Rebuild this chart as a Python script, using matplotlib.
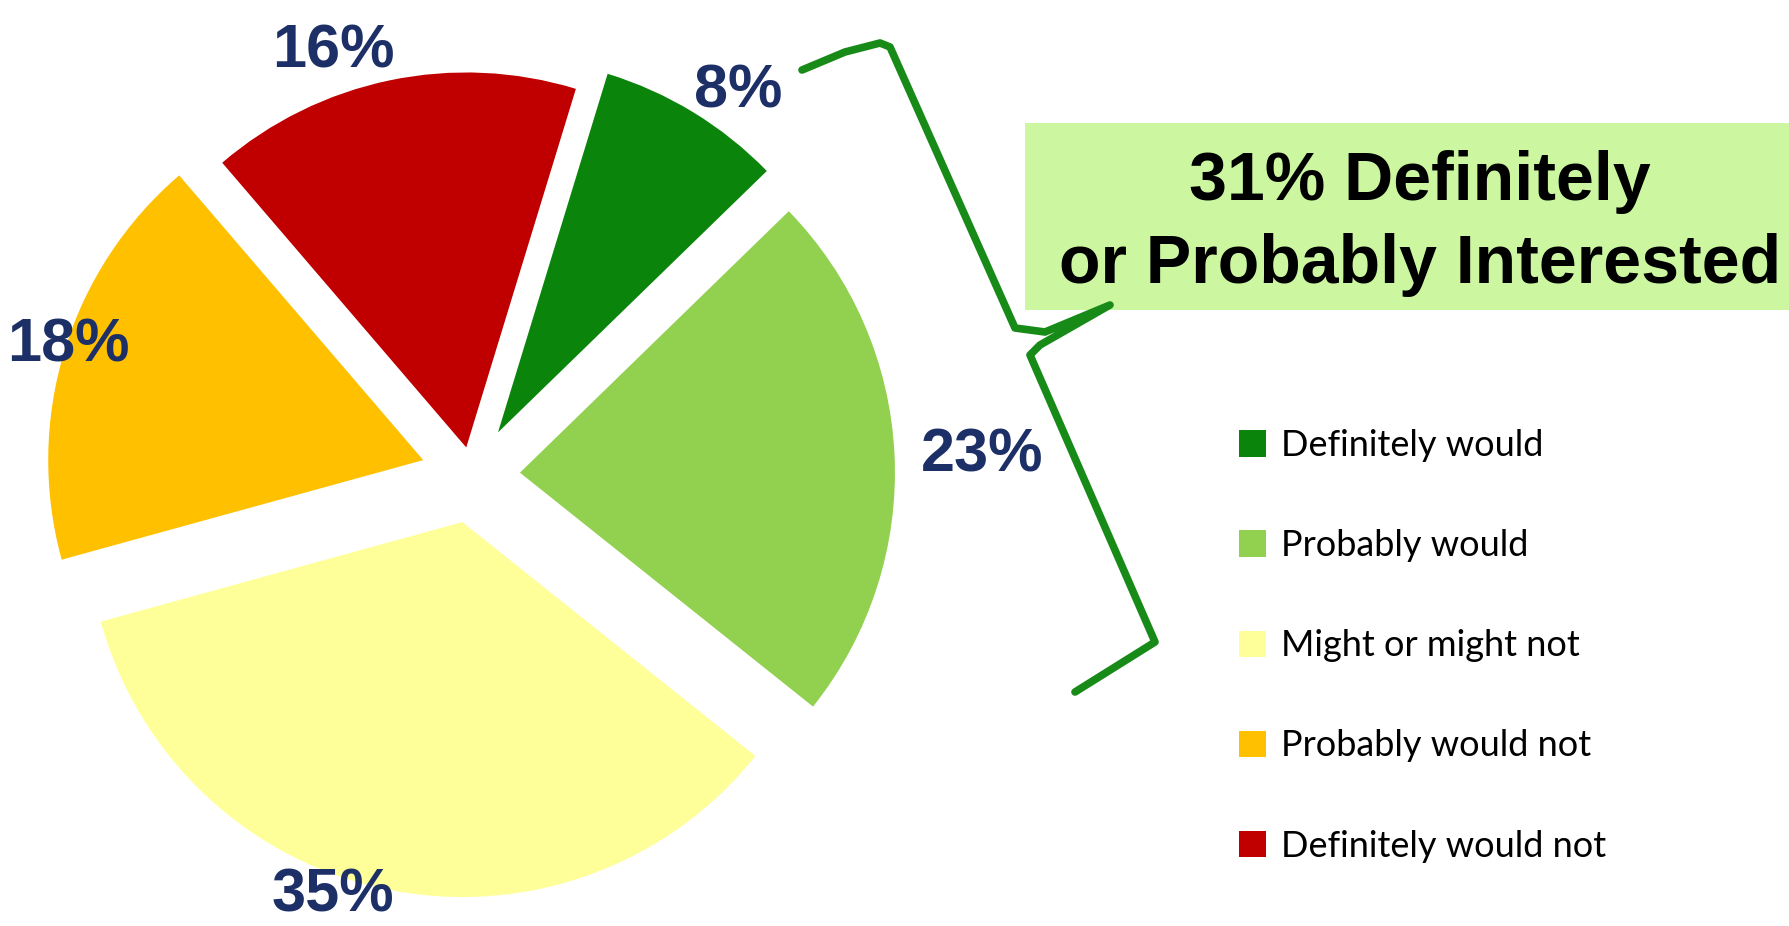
import matplotlib.pyplot as plt
from matplotlib.patches import Rectangle
from matplotlib.lines import Line2D

# survey answers, clockwise from the top
categories = ["Definitely would", "Probably would", "Might or might not",
              "Probably would not", "Definitely would not"]
shares = [8, 23, 35, 18, 16]
colors = ["#0B840B", "#92D050", "#FFFF99", "#FFC000", "#C00000"]
explode = [0.133, 0.128, 0.128, 0.136, 0.075]
summary_lines = ["31% Definitely", "or Probably Interested"]

# label centres in pixels (from top-left), same order as shares
label_xy = [(738, 86), (982, 450), (333, 890), (68, 340), (333, 45)]

W, H = 1790, 926
R = 375
cx, cy = 472, 475  # pie centre in pixels from top-left

fig = plt.figure(figsize=(W / 100, H / 100), dpi=100)
fig.patch.set_facecolor("white")

# pie axes in units of the radius
ax = fig.add_axes([0, 0, 1, 1])
wedges, _ = ax.pie(shares, colors=colors, explode=explode, startangle=73,
                   counterclock=False, frame=True,
                   wedgeprops=dict(linewidth=0))
ax.set_xlim(-cx / R, (W - cx) / R)
ax.set_ylim(-(H - cy) / R, cy / R)
ax.set_aspect("auto")
ax.axis("off")

# overlay in pixel units for labels, brace, box and legend
ov = fig.add_axes([0, 0, 1, 1])
ov.set_xlim(0, W)
ov.set_ylim(H, 0)
ov.axis("off")

pct_font = ["Liberation Sans Narrow", "Liberation Sans", "DejaVu Sans"]
for v, (x, y) in zip(shares, label_xy):
    ov.text(x, y + 22, f"{v}%", ha="center", va="baseline", fontsize=44,
            fontweight="bold", color="#1C2F66", family=pct_font)

# green brace grouping the two top boxes
brace_x = [802, 845, 880, 890, 1015, 1045, 1110, 1040, 1030, 1155, 1075]
brace_y = [70, 52, 43, 47, 328, 332, 305, 345, 355, 642, 692]
ov.add_line(Line2D(brace_x, brace_y, color="#178A17", linewidth=5.5,
                   solid_joinstyle="round", solid_capstyle="round"))

# summary box
ov.add_patch(Rectangle((1025, 123), W - 1025, 187, facecolor="#CCF7A0",
                       edgecolor="none", zorder=1))
ov.text(1420, 200, summary_lines[0], ha="center", va="baseline", fontsize=49,
        fontweight="bold", family="Liberation Sans", color="black", zorder=3)
ov.text(1420, 283, summary_lines[1], ha="center", va="baseline", fontsize=49,
        fontweight="bold", family="Liberation Sans", color="black", zorder=3)

ov.legend(wedges, categories, loc="upper left", bbox_to_anchor=(1239, 429),
          bbox_transform=ov.transData, frameon=False,
          prop=dict(family="Lato", size=26), handlelength=0.75,
          handleheight=0.75, handletextpad=0.4, labelspacing=1.86,
          borderpad=0, borderaxespad=0)

fig.savefig("out.png", dpi=100)
